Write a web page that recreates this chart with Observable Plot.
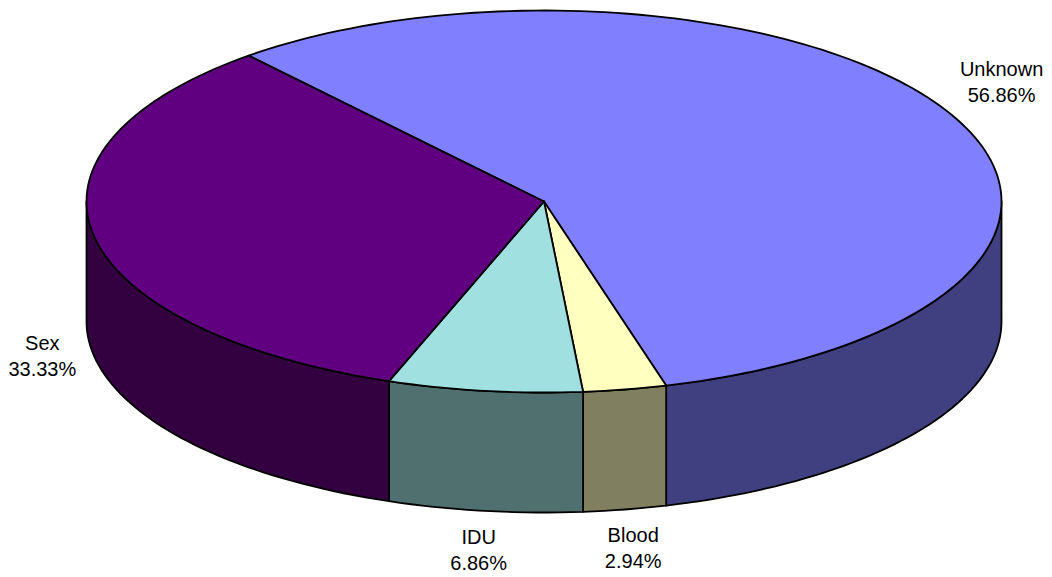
<!DOCTYPE html>
<html>
<head>
<meta charset="utf-8">
<script src="https://cdn.jsdelivr.net/npm/d3@7"></script>
<script src="https://cdn.jsdelivr.net/npm/@observablehq/plot@0.6"></script>
<style>
  html, body { margin: 0; padding: 0; background: #ffffff; }
  #chart svg { display: block; overflow: visible; }
</style>
</head>
<body>
<div id="chart"></div>
<script>
// Share of cases by route of transmission, in clockwise order from the first slice
const categories = ["Unknown", "Blood", "IDU", "Sex"];
const percents = [56.86, 2.94, 6.86, 33.33];
const topColors = ["#8080ff", "#ffffc0", "#a0e0e0", "#600080"];
const sideColors = ["#404080", "#808060", "#507070", "#330040"];

// Layout of the tilted disc (pixels)
const W = 1052, H = 577;
const cx = 543.5, cy = 201, rx = 457.5, ry = 191, depthPx = 120;
const startAngle = 319.8;          // degrees, clockwise from 12 o'clock
const depth = depthPx / ry;         // disc thickness in unit-circle terms
const fontSize = 20, lineHeight = 1.3;
const fontFamily = "'Liberation Sans', Arial, Helvetica, sans-serif";

const rad = d => d * Math.PI / 180;
const total = d3.sum(percents);

// Angular extent of each slice
let acc = startAngle;
const slices = categories.map((name, i) => {
  const a0 = acc;
  const a1 = acc + percents[i] / total * 360;
  acc = a1;
  return {name, value: percents[i], a0, a1, top: topColors[i], side: sideColors[i]};
});

// Sample an arc of the unit circle (angles in degrees)
function arc(a0, a1, dy = 0) {
  const n = Math.max(2, Math.ceil(Math.abs(a1 - a0) / 1.5));
  return d3.range(n + 1).map(k => {
    const a = rad(a0 + (a1 - a0) * k / n);
    return {x: Math.sin(a), y: Math.cos(a) - dy};
  });
}

// Front (visible) wall of a slice: its arc clipped to 90°..270°
function sideFace(s) {
  const faces = [];
  for (const shift of [-360, 0, 360]) {
    const lo = Math.max(s.a0, 90 + shift), hi = Math.min(s.a1, 270 + shift);
    if (hi > lo) {
      const upper = arc(lo, hi);
      const lower = arc(lo, hi, depth).reverse();
      faces.push([...upper, ...lower, upper[0]]);
    }
  }
  return faces;
}

// Top wedge of a slice
function wedge(s) {
  return [{x: 0, y: 0}, ...arc(s.a0, s.a1), {x: 0, y: 0}];
}

// Label positions: outside the rim at the slice's mid-angle
const ctx = document.createElement("canvas").getContext("2d");
ctx.font = `${fontSize}px ${fontFamily}`;
const labels = slices.map(s => {
  const text = `${s.name}\n${s.value.toFixed(2)}%`;
  const halfW = d3.max(text.split("\n"), t => ctx.measureText(t).width) / 2;
  const halfH = 2 * fontSize * lineHeight / 2;
  const m = rad((s.a0 + s.a1) / 2);
  const sn = Math.sin(m), cs = Math.cos(m);
  const ax = cx + rx * 1.04 * sn;
  const ay = cy - ry * 1.06 * cs + (cs < 0 ? depthPx : 0);
  const px = ax + halfW * sn;
  const lift = Math.max(-1, Math.min(1, (Math.abs(cs) - 0.2) * 4));
  const py = ay - Math.sign(cs) * halfH * lift;
  return {text, x: (px - cx) / rx, y: (cy - py) / ry};
});

const lineStyle = {stroke: "#000", strokeWidth: 1.8, strokeLinejoin: "round", curve: "linear"};

const marks = [];
for (const s of slices) {
  for (const face of sideFace(s)) {
    marks.push(Plot.line(face, {x: "x", y: "y", fill: s.side, ...lineStyle}));
  }
}
for (const s of slices) {
  marks.push(Plot.line(wedge(s), {x: "x", y: "y", fill: s.top, ...lineStyle}));
}
marks.push(Plot.text(labels, {
  x: "x", y: "y", text: "text",
  fontSize, lineHeight, fontFamily,
  fill: "#000", textAnchor: "middle", lineAnchor: "middle"
}));

const chart = Plot.plot({
  width: W,
  height: H,
  x: {domain: [-1, 1], range: [cx - rx, cx + rx], axis: null},
  y: {domain: [1, -1], range: [cy - ry, cy + ry], axis: null},
  style: {background: "#ffffff", fontFamily},
  marks
});
document.getElementById("chart").appendChild(chart);
</script>
</body>
</html>
